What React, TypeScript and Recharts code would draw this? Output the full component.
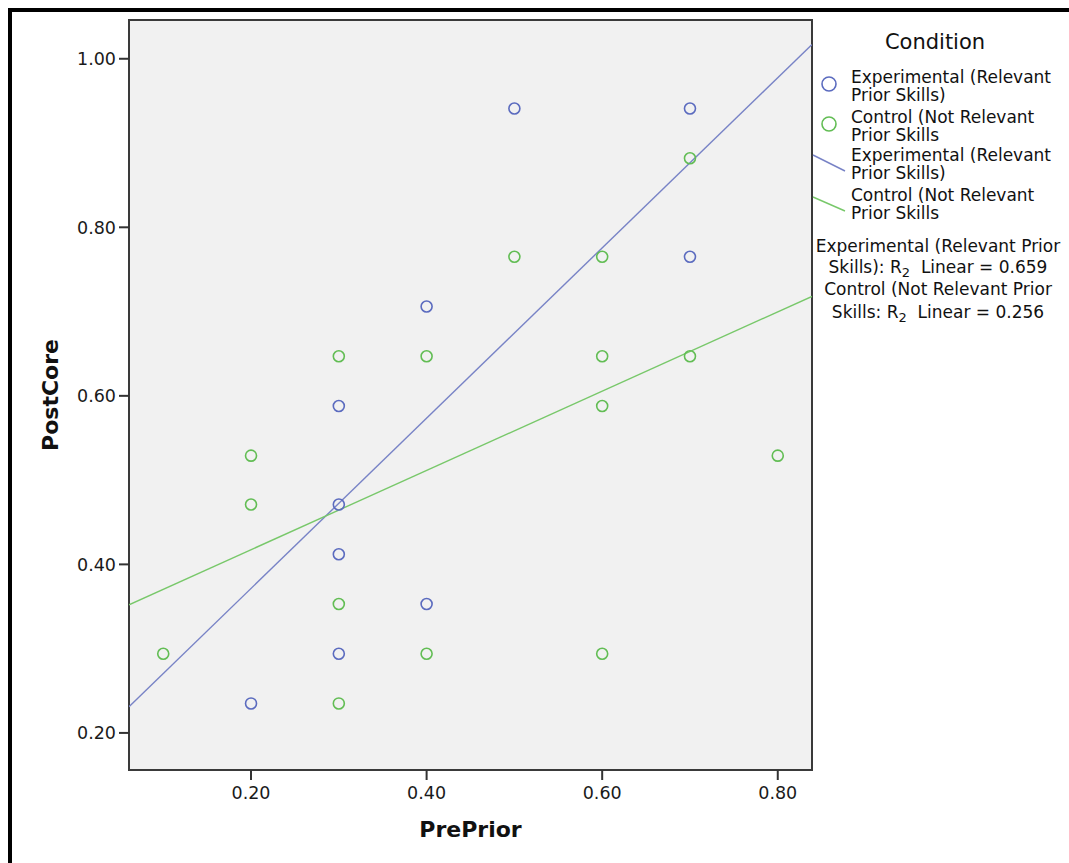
import React from 'react';
import {
  ScatterChart,
  Scatter,
  XAxis,
  YAxis,
  CartesianGrid,
  ReferenceArea,
  Legend,
} from 'recharts';

const FONT = '"DejaVu Sans", sans-serif';

// Experimental (Relevant Prior Skills)
const prePriorExp = [0.5, 0.7, 0.7, 0.4, 0.3, 0.3, 0.3, 0.4, 0.3, 0.2];
const postCoreExp = [0.941, 0.941, 0.765, 0.706, 0.588, 0.471, 0.412, 0.353, 0.294, 0.235];

// Control (Not Relevant Prior Skills)
const prePriorCtl = [0.7, 0.5, 0.6, 0.3, 0.4, 0.6, 0.7, 0.6, 0.2, 0.8, 0.2, 0.3, 0.1, 0.4, 0.6, 0.3];
const postCoreCtl = [0.882, 0.765, 0.765, 0.647, 0.647, 0.647, 0.647, 0.588, 0.529, 0.529, 0.471, 0.353, 0.294, 0.294, 0.294, 0.235];

// fit lines, read at the plot edges
const fitX = [0.061, 0.839];
const fitExpY = [0.231, 1.017];
const fitCtlY = [0.352, 0.718];

const xTicks = [0.2, 0.4, 0.6, 0.8];
const yTicks = [0.2, 0.4, 0.6, 0.8, 1.0];
const xDomain = [0.061, 0.839];
const yDomain = [0.156, 1.046];

const legendTitle = 'Condition';
const expLabel = ['Experimental (Relevant', 'Prior Skills)'];
const ctlLabel = ['Control (Not Relevant', 'Prior Skills'];
const r2Exp = ['Experimental (Relevant Prior', 'Skills): R', '2', '  Linear = 0.659'];
const r2Ctl = ['Control (Not Relevant Prior', 'Skills: R', '2', '  Linear = 0.256'];

const BLUE = '#5b6bbf';
const GREEN = '#62bd54';
const BLUE_LINE = '#7883c6';
const GREEN_LINE = '#78c86a';

const zip = (xs: number[], ys: number[]) => xs.map((x, i) => ({ x, y: ys[i] }));

const expData = zip(prePriorExp, postCoreExp);
const ctlData = zip(prePriorCtl, postCoreCtl);
const expFit = zip(fitX, fitExpY);
const ctlFit = zip(fitX, fitCtlY);

const ring = (color: string) => (props: any) => (
  <circle cx={props.cx} cy={props.cy} r={5.5} fill="none" stroke={color} strokeWidth={1.6} />
);
const noDot = () => <g />;

const legendContent = () => (
  <svg width={257} height={330} style={{ display: 'block', fontFamily: FONT }}>
    <text x={123} y={42} textAnchor="middle" dominantBaseline="central" fontSize={21} fill="#111">
      {legendTitle}
    </text>
    <circle cx={17} cy={84} r={7} fill="none" stroke={BLUE} strokeWidth={1.6} />
    <text x={39} y={77} dominantBaseline="central" fontSize={17} fill="#111">{expLabel[0]}</text>
    <text x={39} y={95} dominantBaseline="central" fontSize={17} fill="#111">{expLabel[1]}</text>
    <circle cx={17} cy={124} r={7} fill="none" stroke={GREEN} strokeWidth={1.6} />
    <text x={39} y={117} dominantBaseline="central" fontSize={17} fill="#111">{ctlLabel[0]}</text>
    <text x={39} y={135} dominantBaseline="central" fontSize={17} fill="#111">{ctlLabel[1]}</text>
    <line x1={1} y1={155} x2={33} y2={171} stroke={BLUE_LINE} strokeWidth={1.4} />
    <text x={39} y={155} dominantBaseline="central" fontSize={17} fill="#111">{expLabel[0]}</text>
    <text x={39} y={173} dominantBaseline="central" fontSize={17} fill="#111">{expLabel[1]}</text>
    <line x1={1} y1={197} x2={33} y2={211} stroke={GREEN_LINE} strokeWidth={1.4} />
    <text x={39} y={195} dominantBaseline="central" fontSize={17} fill="#111">{ctlLabel[0]}</text>
    <text x={39} y={213} dominantBaseline="central" fontSize={17} fill="#111">{ctlLabel[1]}</text>
    <text x={126} y={246} textAnchor="middle" dominantBaseline="central" fontSize={17} fill="#111">{r2Exp[0]}</text>
    <text x={126} y={267} textAnchor="middle" dominantBaseline="central" fontSize={17} fill="#111" style={{ whiteSpace: 'pre' }}>
      {r2Exp[1]}
      <tspan fontSize={13} dy={5}>{r2Exp[2]}</tspan>
      <tspan dy={-5}>{r2Exp[3]}</tspan>
    </text>
    <text x={126} y={289} textAnchor="middle" dominantBaseline="central" fontSize={17} fill="#111">{r2Ctl[0]}</text>
    <text x={126} y={312} textAnchor="middle" dominantBaseline="central" fontSize={17} fill="#111" style={{ whiteSpace: 'pre' }}>
      {r2Ctl[1]}
      <tspan fontSize={13} dy={5}>{r2Ctl[2]}</tspan>
      <tspan dy={-5}>{r2Ctl[3]}</tspan>
    </text>
  </svg>
);

export default function App() {
  return (
    <div style={{ position: 'absolute', left: 0, top: 0, width: 1069, height: 863, overflow: 'hidden', background: '#fff' }}>
      <div
        style={{
          position: 'absolute',
          left: 8,
          top: 8,
          width: 1200,
          height: 1000,
          border: '4px solid #000',
          boxSizing: 'border-box',
        }}
      />
      <ScatterChart
        width={1069}
        height={863}
        margin={{ top: 20, right: 257, bottom: 33, left: 69 }}
        style={{ fontFamily: FONT }}
      >
        <CartesianGrid fill="#f1f1f1" horizontal={false} vertical={false} />
        <XAxis
          type="number"
          dataKey="x"
          domain={xDomain}
          ticks={xTicks}
          allowDataOverflow
          tickFormatter={(v: number) => v.toFixed(2)}
          axisLine={false}
          tickLine={{ stroke: '#333', strokeWidth: 2 }}
          tickSize={10}
          tickMargin={7}
          height={60}
          tick={{ fill: '#1a1a1a', fontSize: 17.5, fontFamily: FONT }}
          label={{
            content: (p: any) => (
              <text
                x={p.viewBox.x + p.viewBox.width / 2}
                y={p.viewBox.y + 67}
                textAnchor="middle"
                fontSize={22}
                fontWeight="bold"
                fontFamily={FONT}
                fill="#111"
              >
                PrePrior
              </text>
            ),
          }}
        />
        <YAxis
          type="number"
          dataKey="y"
          domain={yDomain}
          ticks={yTicks}
          allowDataOverflow
          tickFormatter={(v: number) => v.toFixed(2)}
          axisLine={false}
          tickLine={{ stroke: '#333', strokeWidth: 2 }}
          tickSize={10}
          tickMargin={3}
          width={60}
          tick={{ fill: '#1a1a1a', fontSize: 17.5, fontFamily: FONT }}
          label={{
            content: (p: any) => {
              const cx = p.viewBox.x - 19;
              const cy = p.viewBox.y + p.viewBox.height / 2;
              return (
                <text
                  x={cx}
                  y={cy}
                  transform={`rotate(-90, ${cx}, ${cy})`}
                  textAnchor="middle"
                  dominantBaseline="central"
                  fontSize={22}
                  fontWeight="bold"
                  fontFamily={FONT}
                  fill="#111"
                >
                  PostCore
                </text>
              );
            },
          }}
        />
        <ReferenceArea
          x1={xDomain[0]}
          x2={xDomain[1]}
          y1={yDomain[0]}
          y2={yDomain[1]}
          fill="none"
          stroke="#3a3a3a"
          strokeWidth={2}
          ifOverflow="visible"
        />
        <Scatter
          name="Experimental fit"
          data={expFit}
          line={{ stroke: BLUE_LINE, strokeWidth: 1.4 }}
          shape={noDot}
          isAnimationActive={false}
          legendType="none"
        />
        <Scatter
          name="Control fit"
          data={ctlFit}
          line={{ stroke: GREEN_LINE, strokeWidth: 1.4 }}
          shape={noDot}
          isAnimationActive={false}
          legendType="none"
        />
        <Scatter
          name="Experimental (Relevant Prior Skills)"
          data={expData}
          shape={ring(BLUE)}
          isAnimationActive={false}
        />
        <Scatter
          name="Control (Not Relevant Prior Skills"
          data={ctlData}
          shape={ring(GREEN)}
          isAnimationActive={false}
        />
        <Legend
          layout="horizontal"
          align="center"
          verticalAlign="middle"
          content={legendContent}
          wrapperStyle={{ left: 812, top: 0, width: 257, height: 330 }}
        />
      </ScatterChart>
    </div>
  );
}
